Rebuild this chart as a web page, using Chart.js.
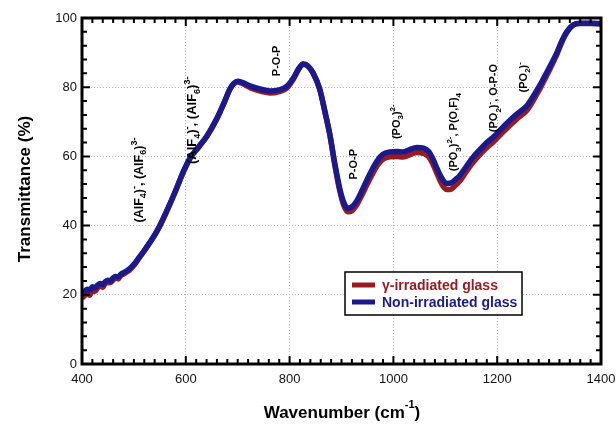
<!DOCTYPE html>
<html>
<head>
<meta charset="utf-8">
<script src="https://cdn.jsdelivr.net/npm/chart.js@4"></script>
<style>
  html, body { margin: 0; padding: 0; background: #fff; }
  #wrap { width: 616px; height: 426px; }
</style>
</head>
<body>
<div id="wrap"><canvas id="ftir"></canvas></div>
<script>
// FTIR spectra, wavenumber vs transmittance

let wavenumber = [400,405,410,415,420,425,430,435,440,445,450,455,460,465,470,475,480,485,492,500,510,520,530,540,550,565,580,595,608,625,641,660,675,685,692,700,710,725,745,762,780,795,808,818,826,835,845,858,868,878,887,897,905,912,920,930,940,949,960,970,980,993,1007,1018,1030,1045,1058,1068,1076,1084,1094,1103,1112,1120,1128,1140,1152,1167,1180,1192,1205,1225,1240,1257,1268,1282,1298,1315,1325,1334,1346,1360,1380,1400]

let nonIrradiated = [20.3,21.0,21.6,21.4,22.3,22.0,22.8,23.3,23.0,23.8,24.2,24.0,24.9,25.3,25.2,26.0,26.4,26.8,27.6,28.8,30.8,32.8,35.0,37.3,40.0,44.8,50.0,55.5,59.5,62.8,66.0,71.0,76.0,79.5,81.0,81.7,81.3,80.3,79.4,78.9,79.2,80.3,82.8,85.5,86.7,86.2,84.2,79.5,73.0,66.0,58.0,50.5,46.5,45.0,45.4,47.3,50.3,53.2,56.5,59.0,60.6,61.3,61.4,61.3,61.9,62.6,62.4,61.4,59.3,56.5,53.5,52.2,52.4,53.4,54.5,57.0,59.5,62.0,64.0,65.5,67.5,70.5,72.5,74.6,77.0,80.5,85.0,90.0,93.5,96.0,98.0,98.5,98.5,98.4]

let irradiated = [19.0,19.8,21.0,19.9,21.5,21.0,22.0,22.8,22.2,23.4,23.5,23.6,24.3,25.0,24.6,25.6,26.0,26.5,27.2,28.5,30.6,32.7,34.9,37.2,39.9,44.7,49.9,55.4,59.4,62.7,65.9,70.9,75.9,79.4,80.9,81.5,81.0,79.8,78.8,78.3,78.7,79.8,82.5,85.3,86.6,86.1,84.1,79.4,72.9,65.8,57.6,49.8,45.6,44.0,44.3,46.2,49.0,51.8,55.0,57.6,59.2,59.9,60.0,59.8,60.4,61.1,60.9,59.9,57.8,55.0,51.8,50.4,50.6,51.7,52.9,55.5,58.0,60.6,62.6,64.1,66.1,69.1,71.1,73.3,75.8,79.5,84.2,89.5,93.2,95.8,97.9,98.4,98.4,98.3]

let seriesNames = ['γ-irradiated glass', 'Non-irradiated glass']
let seriesColors = ['#9a1a22', '#1a1a8c']

let xTicks = [400, 600, 800, 1000, 1200, 1400]
let yTicks = [0, 20, 40, 60, 80, 100]

// band assignments: text, wavenumber of the baseline, value where the text starts
let bandText = ['(AlF_{4})^{-}, (AlF_{6})^{3-}', '(AlF_{4})^{-}, (AlF_{6})^{3-}', 'P-O-P', 'P-O-P', '(PO_{3})^{2-}', '(PO_{3})^{2-}, P(O,F)_{4}', '(PO_{2})^{-}, O-P-O', '(PO_{2})^{-}']
let bandWn = [517, 620, 781, 930, 1013, 1123, 1200, 1257]
let bandStart = [40.9, 57.8, 83.2, 53.3, 65, 55.7, 67, 78.5]
let bandSize = [12.5, 13, 11, 11, 11, 11, 11, 11]

const FONT = '"Liberation Sans", Arial, sans-serif'

function toPoints(xs, ys) {
  return xs.map((x, i) => ({ x: x, y: ys[i] }))
}

// split "a_{b}^{c}" into parts
function parseRich(s) {
  let parts = []
  let re = /([_^])\{([^}]*)\}|([^_^]+)/g
  let m
  while ((m = re.exec(s)) !== null) {
    if (m[3]) parts.push({ t: m[3], k: 'n' })
    else parts.push({ t: m[2], k: m[1] == '_' ? 'sub' : 'sup' })
  }
  return parts
}

function drawRich(ctx, s, size) {
  let x = 0
  parseRich(s).forEach(p => {
    let fs = p.k == 'n' ? size : Math.round(size * 0.72)
    ctx.font = 'bold ' + fs + 'px ' + FONT
    let dy = p.k == 'sub' ? size * 0.3 : (p.k == 'sup' ? -size * 0.45 : 0)
    ctx.fillText(p.t, x, dy)
    x += ctx.measureText(p.t).width
  })
  return x
}

let extras = {
  id: 'extras',
  afterDatasetsDraw(chart) {
    let ctx = chart.ctx
    let a = chart.chartArea
    let xs = chart.scales.x, ys = chart.scales.y
    ctx.save()

    // minor + major ticks pointing inward on all sides
    ctx.strokeStyle = '#000'
    ctx.lineWidth = 2
    ctx.beginPath()
    for (let v = 400; v <= 1400; v += 20) {
      let px = xs.getPixelForValue(v)
      let len = (v % 200 == 0) ? 8 : 5
      ctx.moveTo(px, a.bottom); ctx.lineTo(px, a.bottom - len)
      ctx.moveTo(px, a.top); ctx.lineTo(px, a.top + len)
    }
    for (let v = 0; v <= 100; v += 4) {
      let py = ys.getPixelForValue(v)
      let len = (v % 20 == 0) ? 8 : 5
      ctx.moveTo(a.left, py); ctx.lineTo(a.left + len, py)
      ctx.moveTo(a.right, py); ctx.lineTo(a.right - len, py)
    }
    ctx.stroke()

    // frame
    ctx.lineWidth = 3
    ctx.strokeRect(a.left, a.top, a.right - a.left, a.bottom - a.top)

    // band labels, rotated
    ctx.fillStyle = '#000'
    ctx.textBaseline = 'alphabetic'
    ctx.textAlign = 'left'
    bandText.forEach((t, i) => {
      ctx.save()
      ctx.translate(xs.getPixelForValue(bandWn[i]), ys.getPixelForValue(bandStart[i]))
      ctx.rotate(-Math.PI / 2)
      drawRich(ctx, t, bandSize[i])
      ctx.restore()
    })

    // legend box
    let lx = 345, ly = 272, lw = 177, lh = 43
    ctx.fillStyle = '#fff'
    ctx.fillRect(lx, ly, lw, lh)
    ctx.lineWidth = 1.5
    ctx.strokeStyle = '#000'
    ctx.strokeRect(lx, ly, lw, lh)
    seriesNames.forEach((n, i) => {
      let yy = ly + 13 + i * 17
      ctx.strokeStyle = seriesColors[i]
      ctx.lineWidth = 5
      ctx.beginPath()
      ctx.moveTo(lx + 7, yy); ctx.lineTo(lx + 30, yy)
      ctx.stroke()
      ctx.fillStyle = seriesColors[i]
      ctx.font = 'bold 14px ' + FONT
      ctx.textBaseline = 'middle'
      ctx.fillText(n, lx + 37, yy + 1)
    })

    // axis titles
    ctx.fillStyle = '#000'
    ctx.textBaseline = 'middle'
    ctx.save()
    ctx.translate(25, 189)
    ctx.rotate(-Math.PI / 2)
    ctx.textAlign = 'center'
    ctx.font = 'bold 17px ' + FONT
    ctx.fillText('Transmittance (%)', 0, 0)
    ctx.restore()

    ctx.save()
    ctx.textAlign = 'left'
    ctx.font = 'bold 17px ' + FONT
    let w1 = ctx.measureText('Wavenumber (cm').width
    ctx.font = 'bold 11px ' + FONT
    let w2 = ctx.measureText('-1').width
    ctx.font = 'bold 17px ' + FONT
    let w3 = ctx.measureText(')').width
    let x0 = 342 - (w1 + w2 + w3) / 2
    ctx.fillText('Wavenumber (cm', x0, 413)
    ctx.font = 'bold 11px ' + FONT
    ctx.fillText('-1', x0 + w1, 405)
    ctx.font = 'bold 17px ' + FONT
    ctx.fillText(')', x0 + w1 + w2, 413)
    ctx.restore()

    ctx.restore()
  }
}

let myChart = document.getElementById('ftir').getContext('2d')

let chart = new Chart(myChart, {
  type: 'line',
  data: {
    datasets: [{
      label: seriesNames[0],
      data: toPoints(wavenumber, irradiated),
      borderColor: seriesColors[0],
      borderWidth: 5.5,
      pointRadius: 0,
      cubicInterpolationMode: 'monotone',
      fill: false,
      order: 2 // drawn first, under the blue one
    }, {
      label: seriesNames[1],
      data: toPoints(wavenumber, nonIrradiated),
      borderColor: seriesColors[1],
      borderWidth: 5.5,
      pointRadius: 0,
      cubicInterpolationMode: 'monotone',
      fill: false,
      order: 1
    }]
  },
  options: {
    responsive: true,
    maintainAspectRatio: false,
    animation: false,
    layout: { padding: { top: 18, right: 15, left: 0, bottom: 0 } },
    plugins: {
      legend: { display: false },
      tooltip: { enabled: false }
    },
    scales: {
      x: {
        type: 'linear',
        min: 400,
        max: 1400,
        afterFit(s) { s.height = 62; s.paddingLeft = 0; s.paddingRight = 0 },
        afterBuildTicks(s) { s.ticks = xTicks.map(v => ({ value: v })) },
        ticks: { color: '#111', font: { family: FONT, size: 13 }, padding: 8, maxRotation: 0, callback: v => String(v) },
        grid: { color: '#b0b0b0', lineWidth: 1, drawTicks: false },
        border: { display: false, dash: [1, 2] }
      },
      y: {
        min: 0,
        max: 100,
        afterFit(s) { s.width = 82; s.paddingTop = 0; s.paddingBottom = 0 },
        afterBuildTicks(s) { s.ticks = yTicks.map(v => ({ value: v })) },
        ticks: { color: '#111', font: { family: FONT, size: 13 }, padding: 5 },
        grid: { color: '#b0b0b0', lineWidth: 1, drawTicks: false },
        border: { display: false, dash: [1, 2] }
      }
    }
  },
  plugins: [extras]
});
</script>
</body>
</html>
